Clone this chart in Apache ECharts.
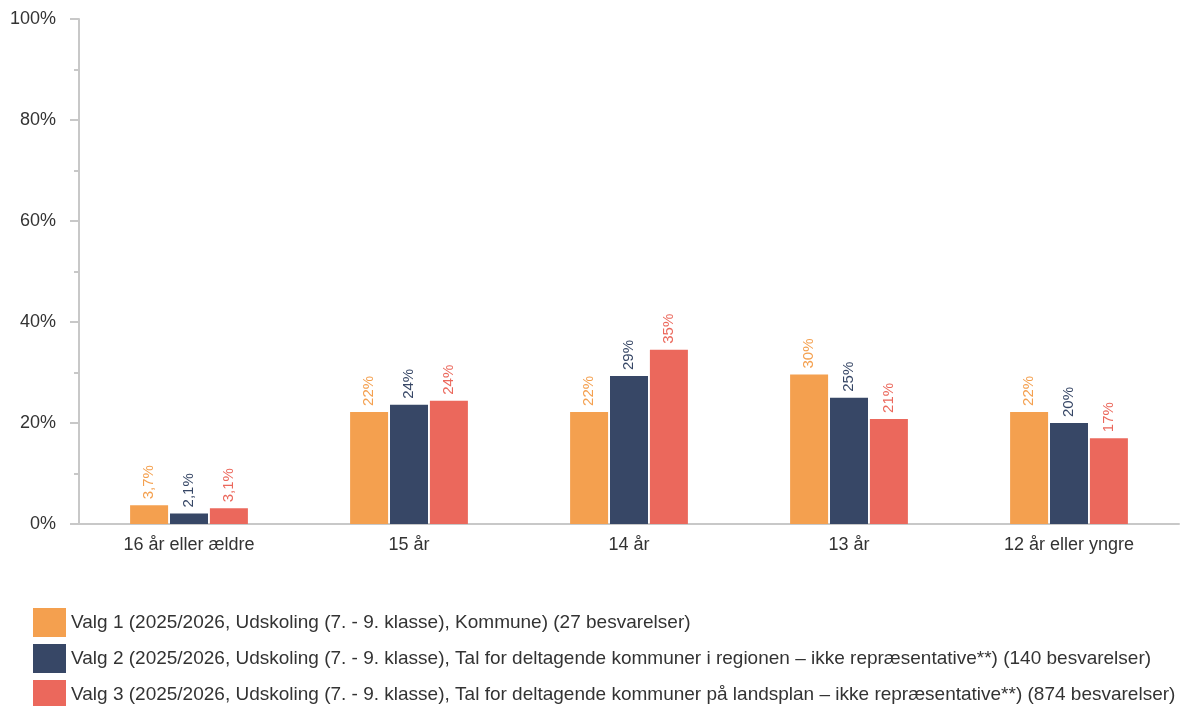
<!DOCTYPE html>
<html>
<head>
<meta charset="utf-8">
<script src="https://cdn.jsdelivr.net/npm/echarts@6/dist/echarts.min.js"></script>
<style>
html,body{margin:0;padding:0;background:#fff;}
#c{width:1182px;height:706px;}
</style>
</head>
<body>
<div id="c"></div>
<script>
var categories = ["16 år eller ældre", "15 år", "14 år", "13 år", "12 år eller yngre"];
var seriesNames = [
  "Valg 1 (2025/2026, Udskoling (7. - 9. klasse), Kommune) (27 besvarelser)",
  "Valg 2 (2025/2026, Udskoling (7. - 9. klasse), Tal for deltagende kommuner i regionen – ikke repræsentative**) (140 besvarelser)",
  "Valg 3 (2025/2026, Udskoling (7. - 9. klasse), Tal for deltagende kommuner på landsplan – ikke repræsentative**) (874 besvarelser)"
];
var valg1 = [3.7, 22.2, 22.2, 29.6, 22.2];
var valg2 = [2.1, 23.6, 29.3, 25.0, 20.0];
var valg3 = [3.1, 24.4, 34.5, 20.8, 17.0];
var yTicks = [0, 20, 40, 60, 80, 100];
var colors = ["#F4A04F", "#374766", "#EB685C"];

function fmt(v) {
  if (v < 10) return v.toFixed(1).replace('.', ',') + '%';
  return Math.round(v) + '%';
}

var font = "'Liberation Sans', Arial, sans-serif";
var dataSets = [valg1, valg2, valg3];
var series = dataSets.map(function (d, i) {
  return {
    name: seriesNames[i],
    type: 'bar',
    data: d,
    barWidth: 38,
    barGap: '5%',
    itemStyle: { color: colors[i] },
    label: {
      show: true,
      position: 'top',
      rotate: 90,
      align: 'left',
      verticalAlign: 'middle',
      distance: 6,
      color: colors[i],
      fontFamily: font,
      fontSize: 15,
      formatter: function (p) { return fmt(p.value); }
    }
  };
});

var chart = echarts.init(document.getElementById('c'), null, { renderer: 'canvas' });
chart.setOption({
  animation: false,
  textStyle: { fontFamily: font },
  grid: { left: 79, right: 3, top: 19, bottom: 182, containLabel: false },
  legend: {
    orient: 'vertical',
    left: 33,
    top: 608,
    height: 200,
    padding: 0,
    itemWidth: 33,
    itemHeight: 29,
    itemGap: 7,
    icon: 'rect',
    textStyle: { fontFamily: font, fontSize: 19, color: '#333' },
    data: seriesNames
  },
  xAxis: {
    type: 'category',
    data: categories,
    axisLine: { lineStyle: { color: '#c8c8c8', width: 2 } },
    axisTick: { show: false },
    axisLabel: { fontFamily: font, fontSize: 18, color: '#333', margin: 12 }
  },
  yAxis: {
    type: 'value',
    min: yTicks[0],
    max: yTicks[yTicks.length - 1],
    interval: yTicks[1] - yTicks[0],
    axisLine: { show: true, lineStyle: { color: '#c8c8c8', width: 2 } },
    axisTick: { show: true, length: 9, lineStyle: { color: '#c8c8c8', width: 2 } },
    minorTick: { show: true, splitNumber: 2, length: 5, lineStyle: { color: '#c8c8c8', width: 2 } },
    splitLine: { show: false },
    axisLabel: {
      fontFamily: font, fontSize: 18, color: '#333', margin: 23,
      formatter: function (v) { return v + '%'; }
    }
  },
  series: series
});
</script>
</body>
</html>
